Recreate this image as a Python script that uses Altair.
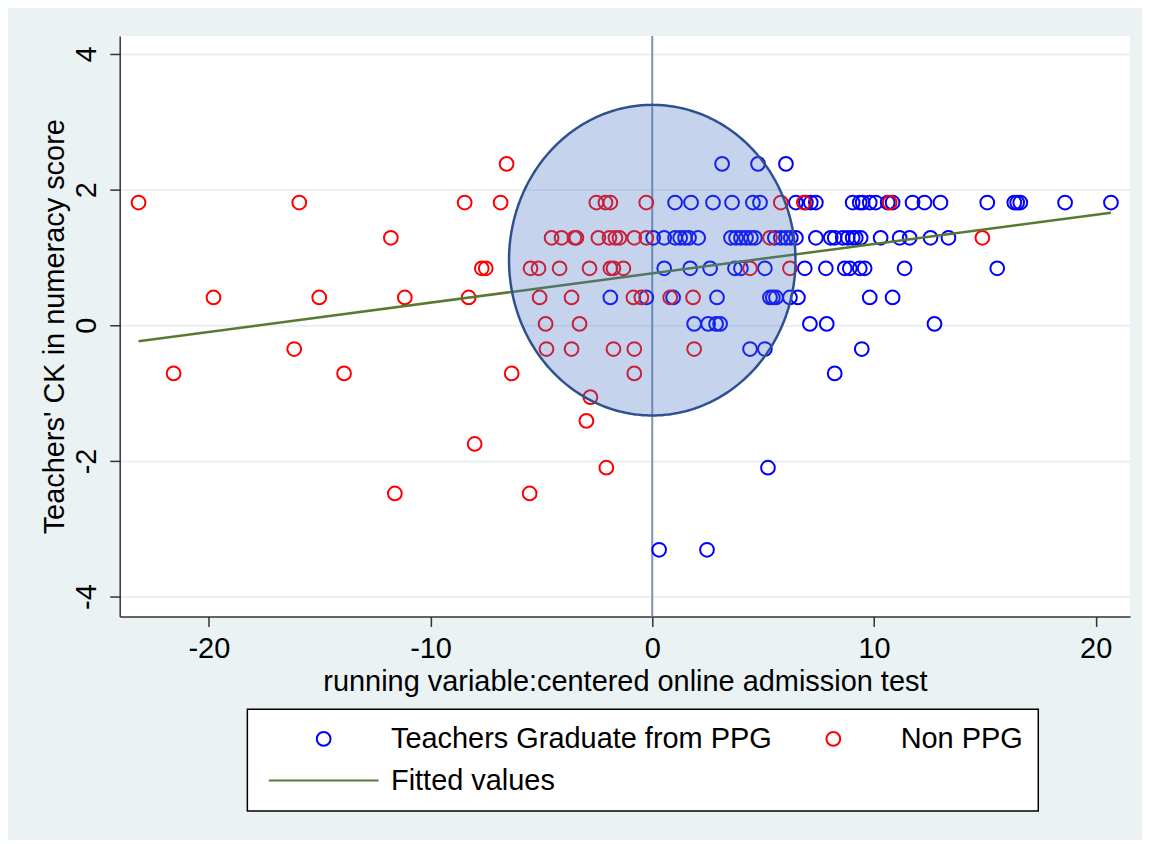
import altair as alt
import numpy as np
import pandas as pd

PPG = "Teachers Graduate from PPG"
NON = "Non PPG"
FIT = "Fitted values"

# --- Teachers graduate from PPG (blue): x positions at each score level ---
ppg_by_level = {
    2.38: [3.15, 4.77, 6.03],
    1.81: [1.03, 1.75, 2.74, 3.60, 4.54, 4.86, 6.48, 6.93, 7.15, 7.38, 9.04, 9.36,
           9.49, 9.81, 10.08, 10.62, 10.84, 11.74, 12.28, 13.0, 15.11, 16.33, 16.46,
           16.60, 18.62, 20.69],
    1.29: [0.04, 0.54, 1.03, 1.26, 1.48, 1.66, 2.07, 3.55, 3.78, 4.0, 4.23, 4.45,
           4.63, 5.53, 5.80, 6.03, 6.25, 6.48, 7.38, 8.05, 8.23, 8.59, 8.82, 9.04,
           9.18, 9.40, 10.30, 11.16, 11.61, 12.55, 13.36],
    0.84: [0.54, 1.71, 2.61, 3.73, 4.0, 5.08, 6.88, 7.83, 8.68, 8.91, 9.36, 9.58,
           11.38, 15.56],
    0.41: [-1.89, -0.27, 0.94, 2.92, 5.31, 5.44, 5.58, 6.21, 6.57, 9.81, 10.84],
    0.02: [1.89, 2.52, 2.88, 3.06, 7.11, 7.87, 12.73],
    -0.35: [4.41, 5.08, 9.45],
    -0.71: [8.23],
    -2.10: [5.22],
    -3.31: [0.31, 2.47],
}

# --- Non PPG (red) ---
non_by_level = {
    2.38: [-6.57],
    1.81: [-23.17, -15.92, -8.46, -6.84, -2.52, -2.11, -1.89, -0.27, 5.80, 6.84, 10.71],
    1.29: [-11.79, -4.54, -4.09, -3.51, -3.42, -2.43, -1.93, -1.66, -1.48, -0.81,
           -0.27, 5.31, 14.89],
    0.84: [-7.69, -7.51, -5.49, -5.13, -4.18, -2.83, -1.89, -1.75, -1.30, 4.41, 6.21],
    0.41: [-19.79, -15.02, -11.16, -8.28, -5.08, -3.64, -0.85, -0.49, 0.81, 1.84],
    0.02: [-4.81, -3.28],
    -0.35: [-16.15, -4.77, -3.64, -1.75, -0.81, 1.89],
    -0.71: [-21.59, -13.90, -6.34, -0.81],
    -1.06: [-2.79],
    -1.41: [-2.97],
    -1.75: [-8.01],
    -2.10: [-2.07],
    -2.48: [-11.61, -5.53],
}

# fitted line end points
fit_x = [-23.17, 20.69]
fit_y = [-0.235, 1.66]

# cutoff line
cutoff_x = [0]

# highlight ellipse (center and radii in data units)
ell_cx, ell_cy = 0.0, 0.96
ell_rx, ell_ry = 6.46, 2.29

x_ticks = [-20, -10, 0, 10, 20]
y_ticks = [-4, -2, 0, 2, 4]

rows = []
for lvl, xs in ppg_by_level.items():
    rows += [{"x": v, "y": lvl, "series": PPG} for v in xs]
for lvl, xs in non_by_level.items():
    rows += [{"x": v, "y": lvl, "series": NON} for v in xs]
pts = pd.DataFrame(rows)

fit_df = pd.DataFrame({"x": fit_x, "y": fit_y})
cut_df = pd.DataFrame({"x": cutoff_x})

t_half = np.linspace(0, np.pi, 241)
ell_fill = pd.DataFrame({
    "x": ell_cx + ell_rx * np.cos(t_half),
    "y": ell_cy + ell_ry * np.sin(t_half),
    "y2": ell_cy - ell_ry * np.sin(t_half),
})
t_full = np.linspace(0, 2 * np.pi, 481)
ell_line = pd.DataFrame({
    "x": ell_cx + ell_rx * np.cos(t_full),
    "y": ell_cy + ell_ry * np.sin(t_full),
    "o": np.arange(len(t_full)),
})

BLUE = "#0000FF"
RED = "#FF0000"
GREEN = "#587A30"
FONT = "Liberation Sans"

line_path = "M -7.98 0 L 7.98 0"

xscale = alt.Scale(domain=[-24.02, 21.55], nice=False, zero=False)
yscale = alt.Scale(domain=[-4.294, 4.265], nice=False, zero=False)

xaxis = alt.Axis(values=x_ticks, title="running variable:centered online admission test",
                 labelExpr="'' + datum.value",
                 grid=False, labelFontSize=29, titleFontSize=29, labelFont=FONT,
                 titleFont=FONT, labelColor="black", titleColor="black",
                 titleFontWeight="normal", domainColor="#333333", domainWidth=1.5,
                 tickColor="#333333", tickWidth=1.5, tickSize=10, labelPadding=8,
                 titleBaseline="alphabetic", titleY=74)
yaxis = alt.Axis(values=y_ticks, title="Teachers' CK in numeracy score",
                 labelExpr="'' + datum.value",
                 grid=True, gridColor="#E8F0F2", gridWidth=2,
                 labelFontSize=29, titleFontSize=29, labelFont=FONT,
                 titleFont=FONT, labelColor="black", titleColor="black",
                 titleFontWeight="normal", domainColor="#333333", domainWidth=1.5,
                 tickColor="#333333", tickWidth=1.5, tickSize=10,
                 labelAngle=270, labelAlign="center", labelBaseline="bottom",
                 labelPadding=8, titleAngle=270, titleBaseline="alphabetic",
                 titleX=-56)

cut = alt.Chart(cut_df).mark_rule(color="#7F93B0", strokeWidth=2).encode(
    x=alt.X("x:Q", scale=xscale, axis=xaxis))

points = alt.Chart(pts).mark_point(filled=False, size=190, strokeWidth=2, opacity=1).encode(
    x=alt.X("x:Q", scale=xscale, axis=xaxis),
    y=alt.Y("y:Q", scale=yscale, axis=yaxis),
    color=alt.Color("series:N",
                    scale=alt.Scale(domain=[PPG, NON, FIT], range=[BLUE, RED, GREEN]),
                    legend=alt.Legend(title=None)),
    shape=alt.Shape("series:N",
                    scale=alt.Scale(domain=[PPG, NON, FIT],
                                    range=["circle", "circle", line_path]),
                    legend=alt.Legend(title=None)),
)

fit = alt.Chart(fit_df).mark_line(color=GREEN, strokeWidth=2.5).encode(
    x=alt.X("x:Q", scale=xscale), y=alt.Y("y:Q", scale=yscale))

ell_a = alt.Chart(ell_fill).mark_area(color="#4472C4", opacity=0.31).encode(
    x=alt.X("x:Q", scale=xscale), y=alt.Y("y:Q", scale=yscale), y2="y2:Q")

ell_l = alt.Chart(ell_line).mark_line(color="#2F528F", strokeWidth=2.5).encode(
    x=alt.X("x:Q", scale=xscale), y=alt.Y("y:Q", scale=yscale), order="o:Q")

chart = alt.layer(cut, points, fit, ell_a, ell_l).properties(
    width=1013, height=582,
    background="#EAF2F3",
    autosize=alt.AutoSizeParams(type="none"),
    padding={"left": 112, "top": 27, "right": 12, "bottom": 223},
).configure_view(fill="white", stroke=None).configure_legend(
    orient="none", legendX=128, legendY=675, columns=2, direction="horizontal",
    fillColor="white", strokeColor="black", strokeWidth=1.5,
    padding=15, labelFontSize=29, labelFont=FONT, labelColor="black",
    symbolSize=190, symbolStrokeWidth=2, symbolOffset=47, rowPadding=12,
    columnPadding=-97, labelOffset=53, labelLimit=600,
)

chart.save("out.html", embed_options={"renderer": "svg", "actions": False})
